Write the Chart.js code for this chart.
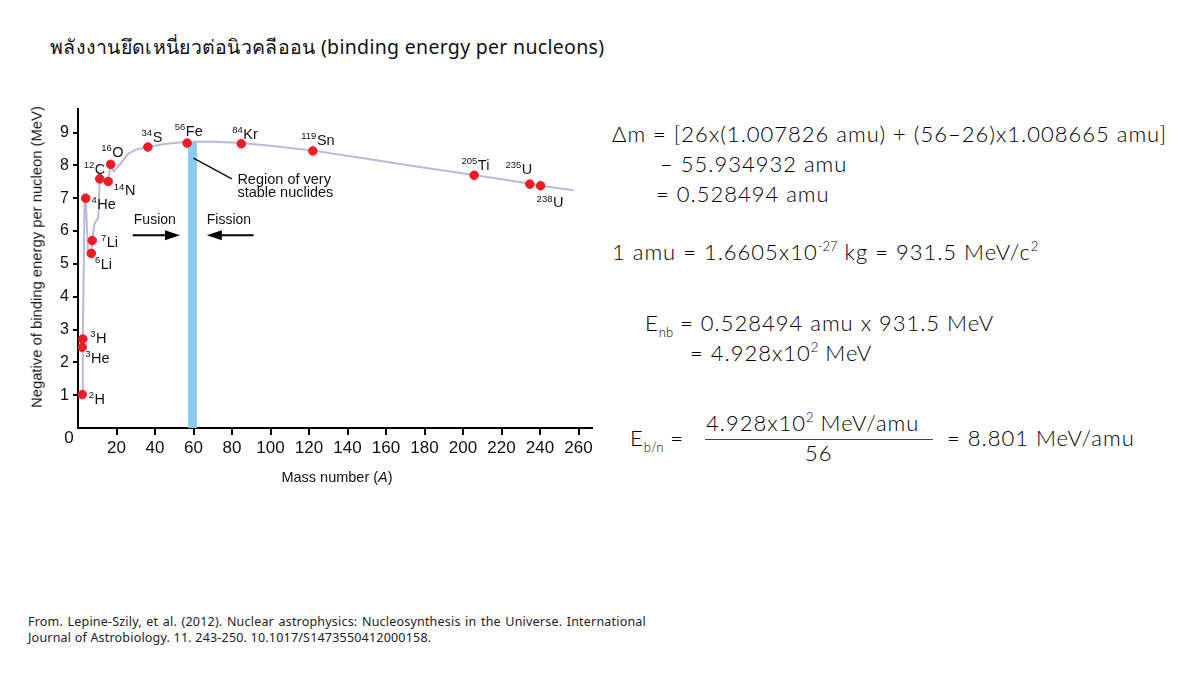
<!DOCTYPE html>
<html>
<head>
<meta charset="utf-8">
<script src="https://cdn.jsdelivr.net/npm/chart.js@4.4.0/dist/chart.umd.min.js"></script>
<style>
    body { margin: 0; width: 1200px; height: 675px; background: #fff; position: relative; overflow: hidden; font-family: 'Noto Sans', sans-serif; color: #1a1a1a; }
    .t { position: absolute; white-space: nowrap; line-height: 1; }
    #title { left: 50px; top: 37px; font-size: 19.5px; letter-spacing: 0.3px; color: #111; }
    .f { font-family: Lato, 'Noto Sans', sans-serif; font-weight: 300; font-size: 22px; letter-spacing: 1px; color: #000; }
    .f sup { font-size: 13px; vertical-align: 9px; line-height: 0; letter-spacing: 0; }
    .f sub { font-size: 13px; vertical-align: -6px; line-height: 0; letter-spacing: 0; }
    #frac-line { position: absolute; left: 705px; top: 439px; width: 228px; height: 1px; background: #444; }
    #footer { position: absolute; left: 28px; top: 614px; width: 618px; font-size: 12.5px; letter-spacing: 0.2px; line-height: 16px; text-align: justify; color: #222; }
    #chart-box { position: absolute; left: 30px; top: 95px; width: 570px; height: 395px; }
    .axt { position: absolute; font-family: 'Liberation Sans', Arial, sans-serif; color: #111; white-space: nowrap; line-height: 1; }
    #ytitle { left: 37px; top: 257px; font-size: 14.8px; transform: translate(-50%, -50%) rotate(-90deg); }
    #xtitle { left: 337px; top: 477px; font-size: 14.5px; transform: translate(-50%, -50%); }
</style>
</head>
<body>
<div id="title" class="t">พลังงานยึดเหนี่ยวต่อนิวคลีออน (binding energy per nucleons)</div>

<div id="chart-box"><canvas id="beChart" width="570" height="395"></canvas></div>
<div id="ytitle" class="axt">Negative of binding energy per nucleon (MeV)</div>
<div id="xtitle" class="axt">Mass number (<i>A</i>)</div>

<div class="t f" style="left:612px; top:123px;">Δm = [26x(1.007826 amu) + (56–26)x1.008665 amu]</div>
<div class="t f" style="left:660px; top:153px;">– 55.934932 amu</div>
<div class="t f" style="left:656px; top:183px;">= 0.528494 amu</div>
<div class="t f" style="left:612px; top:241px;">1 amu = 1.6605x10<sup>-27</sup> kg = 931.5 MeV/c<sup>2</sup></div>
<div class="t f" style="left:645px; top:312px;">E<sub>nb</sub> = 0.528494 amu x 931.5 MeV</div>
<div class="t f" style="left:690px; top:342px;">= 4.928x10<sup>2</sup> MeV</div>
<div class="t f" style="left:630px; top:427px;">E<sub>b/n</sub> =</div>
<div class="t f" style="left:706px; top:412px;">4.928x10<sup>2</sup> MeV/amu</div>
<div id="frac-line"></div>
<div class="t f" style="left:805px; top:442px;">56</div>
<div class="t f" style="left:947px; top:427px;">= 8.801 MeV/amu</div>

<div id="footer">From. Lepine-Szily, et al. (2012). Nuclear astrophysics: Nucleosynthesis in the Universe. International Journal of Astrobiology. 11. 243-250. 10.1017/S1473550412000158.</div>

<script>
// nuclides marked with red dots
const isoMass = ['2', '3', '3', '4', '6', '7', '12', '14', '16', '34', '56', '84', '119', '205', '235', '238'];
const isoSymbol = ['H', 'H', 'He', 'He', 'Li', 'Li', 'C', 'N', 'O', 'S', 'Fe', 'Kr', 'Sn', 'Ti', 'U', 'U'];
const isoA = [2.2, 2.5, 2.2, 4.0, 6.9, 7.4, 11.3, 15.7, 17.0, 36.3, 56.7, 84.8, 122, 205.8, 234.7, 240.3];
const isoBE = [1.02, 2.71, 2.46, 7.0, 5.32, 5.71, 7.59, 7.51, 8.03, 8.56, 8.68, 8.66, 8.44, 7.70, 7.43, 7.38];

// the grey curve
const curveA = [2.2, 2.5, 3.4, 4.0, 5.3, 6.9, 7.4, 8.5, 9.3, 10.5, 11.3, 15.7, 16.3, 17.0, 18.5, 22, 26, 30, 36.3, 45, 56.7, 70, 85, 100, 122, 150, 180, 206, 235, 240, 257.5];
const curveBE = [1.02, 2.71, 6.9, 7.0, 5.25, 5.32, 5.71, 6.2, 6.3, 6.4, 7.59, 7.51, 7.8, 8.03, 7.82, 8.05, 8.35, 8.48, 8.56, 8.65, 8.72, 8.72, 8.68, 8.6, 8.45, 8.2, 7.93, 7.71, 7.44, 7.38, 7.24];

// region of very stable nuclides
const bandA = [57, 61.8];
const bandTop = 8.72;

const xTicks = [20, 40, 60, 80, 100, 120, 140, 160, 180, 200, 220, 240, 260];
const yTicks = [1, 2, 3, 4, 5, 6, 7, 8, 9];

// label placement (px): left edge of the mass number, centre of the symbol
const labelOffset = [[6.5, 5], [7.5, 0], [3, 11.6], [5.7, 7], [3.7, 11.7], [8.7, 2], [-16, -9], [5.6, 10], [-9.6, -11.6], [-6.3, -9], [-12.4, -11], [-9, -9], [-11.6, -10], [-12.7, -9.6], [-24.3, -14.3], [-4, 17.7]];

const AXIS_FONT = "'Liberation Sans', Arial, sans-serif";

const labelsPlugin = {
    id: 'nuclideLabels',
    afterDatasetsDraw(chart) {
        const ctx = chart.ctx;
        const xs = chart.scales.x;
        const ys = chart.scales.y;
        ctx.save();
        ctx.fillStyle = '#111';
        ctx.textBaseline = 'middle';
        ctx.textAlign = 'left';
        isoMass.forEach(function (m, i) {
            const px = xs.getPixelForValue(isoA[i]) + labelOffset[i][0];
            const py = ys.getPixelForValue(isoBE[i]) + labelOffset[i][1];
            ctx.font = '9.5px ' + AXIS_FONT;
            ctx.fillText(m, px, py - 4.5);
            const w = ctx.measureText(m).width;
            ctx.font = '14.5px ' + AXIS_FONT;
            ctx.fillText(isoSymbol[i], px + w + 0.5, py);
        });

        // "0" at the origin
        ctx.font = '17px ' + AXIS_FONT;
        ctx.textAlign = 'center';
        ctx.fillText('0', chart.chartArea.left - 9, chart.chartArea.bottom + 10);

        // region annotation
        ctx.strokeStyle = '#111';
        ctx.lineWidth = 1.5;
        ctx.beginPath();
        ctx.moveTo(xs.getPixelForValue(60), ys.getPixelForValue(8.22));
        ctx.lineTo(xs.getPixelForValue(79.9), ys.getPixelForValue(7.59));
        ctx.stroke();
        ctx.font = '14.5px ' + AXIS_FONT;
        ctx.textAlign = 'left';
        ctx.fillText('Region of very', xs.getPixelForValue(82.8), ys.getPixelForValue(7.57));
        ctx.fillText('stable nuclides', xs.getPixelForValue(82.8), ys.getPixelForValue(7.17));

        // fusion / fission
        ctx.font = '14px ' + AXIS_FONT;
        ctx.textAlign = 'center';
        ctx.fillText('Fusion', xs.getPixelForValue(39.9), ys.getPixelForValue(6.34));
        ctx.fillText('Fission', xs.getPixelForValue(78.4), ys.getPixelForValue(6.34));
        drawArrow(ctx, xs.getPixelForValue(28.4), xs.getPixelForValue(53), ys.getPixelForValue(5.87));
        drawArrow(ctx, xs.getPixelForValue(91.2), xs.getPixelForValue(66.9), ys.getPixelForValue(5.87));
        ctx.restore();
    }
};

function drawArrow(ctx, x0, x1, y) {
    const dir = x1 > x0 ? 1 : -1;
    const head = 15;
    ctx.strokeStyle = '#000';
    ctx.fillStyle = '#000';
    ctx.lineWidth = 2;
    ctx.beginPath();
    ctx.moveTo(x0, y);
    ctx.lineTo(x1 - dir * head, y);
    ctx.stroke();
    ctx.beginPath();
    ctx.moveTo(x1, y);
    ctx.lineTo(x1 - dir * head, y - 5);
    ctx.lineTo(x1 - dir * head, y + 5);
    ctx.closePath();
    ctx.fill();
}

document.addEventListener('DOMContentLoaded', function () {
    const canvas = document.getElementById('beChart');

    new Chart(canvas, {
        type: 'scatter',
        data: {
            datasets: [{
                label: 'Nuclides',
                data: isoA.map((a, i) => ({ x: a, y: isoBE[i] })),
                backgroundColor: '#ee1c24',
                borderColor: '#ee1c24',
                pointRadius: 4.3,
                pointHoverRadius: 4.3,
                order: 0
            }, {
                type: 'line',
                label: 'Binding energy',
                data: curveA.map((a, i) => ({ x: a, y: curveBE[i] })),
                borderColor: '#b8badb',
                borderWidth: 2,
                pointRadius: 0,
                fill: false,
                tension: 0,
                order: 1
            }, {
                type: 'line',
                label: 'Stable region',
                data: bandA.map(a => ({ x: a, y: bandTop })),
                borderWidth: 0,
                borderColor: 'rgba(0,0,0,0)',
                backgroundColor: '#8ccbf0',
                pointRadius: 0,
                fill: 'origin',
                order: 2
            }]
        },
        options: {
            responsive: false,
            animation: false,
            events: [],
            layout: {
                padding: { top: 8, right: 8, left: 0, bottom: 0 }
            },
            plugins: {
                legend: { display: false },
                tooltip: { enabled: false }
            },
            scales: {
                x: {
                    type: 'linear',
                    min: 0,
                    max: 267,
                    afterBuildTicks: s => { s.ticks = xTicks.map(v => ({ value: v })); },
                    afterFit: s => { s.height = 62; },
                    border: { display: true, color: '#000', width: 2 },
                    grid: { drawOnChartArea: false, drawTicks: true, tickLength: 7, color: '#000', lineWidth: 2 },
                    ticks: { color: '#111', font: { family: AXIS_FONT, size: 17 }, padding: 3, maxRotation: 0 }
                },
                y: {
                    type: 'linear',
                    min: 0,
                    max: 9.73,
                    afterBuildTicks: s => { s.ticks = yTicks.map(v => ({ value: v })); },
                    afterFit: s => { s.width = 48; },
                    border: { display: true, color: '#000', width: 2 },
                    grid: { drawOnChartArea: false, drawTicks: true, tickLength: 5, color: '#000', lineWidth: 2 },
                    ticks: { color: '#111', font: { family: AXIS_FONT, size: 16 }, padding: 4 }
                }
            }
        },
        plugins: [labelsPlugin]
    });
});
</script>
</body>
</html>
